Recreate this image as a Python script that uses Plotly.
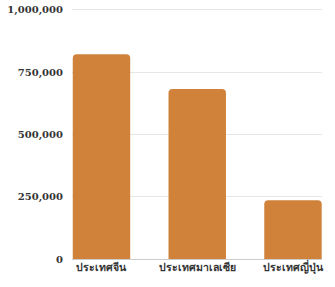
import plotly.graph_objects as go

categories = ["ประเทศจีน", "ประเทศมาเลเซีย", "ประเทศญี่ปุ่น"]
values = [822000, 683000, 236000]
tick_vals = [0, 250000, 500000, 750000, 1000000]
tick_text = ["0", "250,000", "500,000", "750,000", "1,000,000"]

fig = go.Figure(go.Bar(
    x=categories, y=values, width=0.6,
    marker=dict(color="#D0823A", line=dict(width=0)),
))
fig.update_layout(
    width=335, height=287,
    margin=dict(l=72, r=13, t=5, b=28),
    paper_bgcolor="white", plot_bgcolor="white",
    showlegend=False,
    barcornerradius=4,
    font=dict(family="DejaVu Serif", size=11, color="#333333"),
)
fig.update_xaxes(
    range=[-0.308, 2.303], showgrid=False, showline=False, zeroline=False,
    tickfont=dict(family="DejaVu Serif", size=10.5, color="#333333", weight="bold"),
    ticks="", ticklen=0,
)
fig.update_yaxes(
    range=[0, 1020000], tickvals=tick_vals, ticktext=tick_text,
    showgrid=True, gridcolor="#e6e6e6", gridwidth=1,
    zeroline=True, zerolinecolor="#cccccc", zerolinewidth=1,
    tickfont=dict(family="DejaVu Serif", size=10, color="#333333", weight="bold"),
    ticks="", ticklabelstandoff=8,
)
fig.write_html("out.html")
